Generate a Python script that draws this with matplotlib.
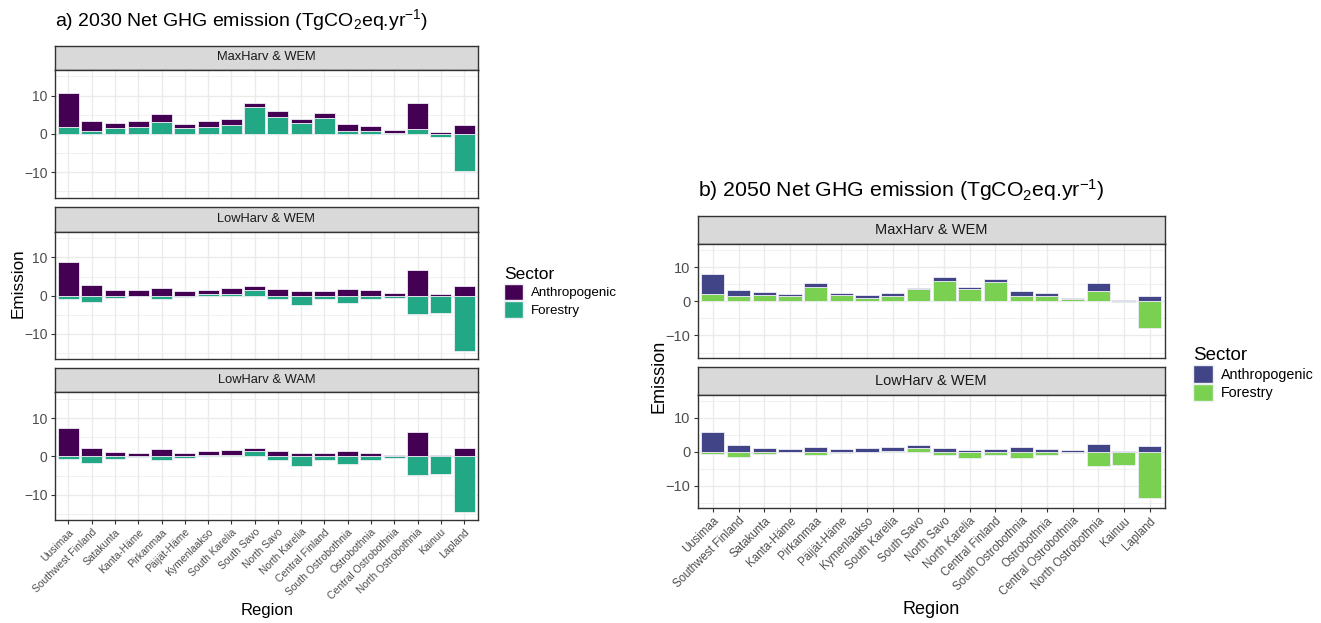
import matplotlib
matplotlib.use("Agg")
import matplotlib.pyplot as plt
from matplotlib.patches import Patch
import numpy as np

plt.rcParams['font.family'] = ['Liberation Sans', 'DejaVu Sans']
plt.rcParams['mathtext.fontset'] = 'custom'
plt.rcParams['mathtext.rm'] = 'Liberation Sans'
plt.rcParams['mathtext.it'] = 'Liberation Sans:italic'

regions = ["Uusimaa", "Southwest Finland", "Satakunta", "Kanta-Häme", "Pirkanmaa",
           "Päijät-Häme", "Kymenlaakso", "South Karelia", "South Savo", "North Savo",
           "North Karelia", "Central Finland", "South Ostrobothnia", "Ostrobothnia",
           "Central Ostrobothnia", "North Ostrobothnia", "Kainuu", "Lapland"]

# 2030 scenarios
anthro_2030_max_wem = [8.9, 2.7, 1.4, 1.6, 2.1, 1.2, 1.4, 1.7, 1.0, 1.7, 1.0, 1.2, 1.7, 1.3, 0.7, 6.7, 0.4, 2.3]
forest_2030_max_wem = [1.8, 0.7, 1.5, 1.7, 3.0, 1.5, 1.9, 2.3, 7.0, 4.3, 2.8, 4.2, 0.8, 0.8, 0.3, 1.4, -0.9, -9.6]
anthro_2030_low_wem = [8.8, 2.7, 1.6, 1.4, 2.1, 1.2, 1.3, 1.6, 0.9, 1.7, 1.1, 1.1, 1.8, 1.4, 0.7, 6.7, 0.4, 2.4]
forest_2030_low_wem = [-0.8, -1.6, -0.6, -0.2, -0.9, -0.3, 0.3, 0.4, 1.5, -0.9, -2.4, -0.9, -2.0, -0.9, -0.5, -4.9, -4.5, -14.5]
anthro_2030_low_wam = [7.4, 2.2, 1.2, 0.95, 1.8, 0.9, 1.1, 1.35, 0.8, 1.4, 0.8, 0.95, 1.5, 1.0, 0.45, 6.3, 0.3, 2.2]
forest_2030_low_wam = [-0.8, -1.6, -0.7, -0.2, -1.0, -0.3, 0.3, 0.35, 1.3, -0.9, -2.4, -0.95, -2.1, -0.95, -0.5, -4.9, -4.5, -14.5]

# 2050 scenarios
anthro_2050_max_wem = [5.8, 1.8, 0.9, 0.6, 1.2, 0.6, 0.7, 0.9, 0.5, 1.1, 0.6, 0.8, 1.2, 0.8, 0.5, 2.3, 0.3, 1.7]
forest_2050_max_wem = [2.2, 1.5, 1.9, 1.5, 4.3, 1.8, 1.1, 1.5, 3.5, 6.0, 3.6, 5.6, 1.7, 1.5, 0.6, 3.0, -0.1, -7.9]
anthro_2050_low_wem = [5.9, 1.8, 1.0, 0.8, 1.3, 0.7, 1.0, 1.15, 0.6, 1.1, 0.6, 0.7, 1.3, 0.9, 0.5, 2.3, 0.3, 1.7]
forest_2050_low_wem = [-0.7, -1.5, -0.8, -0.2, -1.0, -0.4, -0.1, 0.2, 1.2, -0.9, -2.0, -0.9, -1.8, -1.0, -0.5, -4.2, -4.0, -13.6]

W, H = 1321, 623
fig = plt.figure(figsize=(W / 100, H / 100), dpi=100)


def px_axes(x0, y0, x1, y1):
    # pixel box (top-left origin) -> axes
    return fig.add_axes([x0 / W, 1 - y1 / H, (x1 - x0) / W, (y1 - y0) / H])


def strip(x0, y0, x1, y1, label, fs):
    s = px_axes(x0, y0, x1, y1)
    s.set_facecolor('#D9D9D9')
    s.set_xticks([])
    s.set_yticks([])
    for sp in s.spines.values():
        sp.set_color('#333333')
        sp.set_linewidth(1.0)
    s.text(0.5, 0.5, label, ha='center', va='center', fontsize=fs, color='#1A1A1A',
           transform=s.transAxes)


def facet(box, label, anthro, forest, cols, fs, show_x, tick_fs, lab_fs):
    x0, sy0, sy1, x1, py1 = box
    strip(x0, sy0, x1, sy1, label, fs)
    ax = px_axes(x0, sy1, x1, py1)
    x = np.arange(len(regions))
    a = np.array(anthro)
    f = np.array(forest)
    f_bottom = np.zeros_like(f)
    a_bottom = np.where(a >= 0, np.clip(f, 0, None), np.clip(f, None, 0))
    ax.bar(x, f, 0.9, bottom=f_bottom, color=cols[1], edgecolor='#EEEEF5', linewidth=0.6, zorder=3)
    ax.bar(x, a, 0.9, bottom=a_bottom, color=cols[0], edgecolor='#EEEEF5', linewidth=0.6, zorder=3)
    ax.set_xlim(-0.6, len(regions) - 0.4)
    ax.set_ylim(-16.6, 16.8)
    ax.set_yticks([-10, 0, 10])
    ax.set_yticks([-15, -5, 5, 15], minor=True)
    ax.set_xticks(x)
    ax.grid(True, which='major', color='#EBEBEB', linewidth=1.0, zorder=0)
    ax.grid(True, which='minor', axis='y', color='#EBEBEB', linewidth=0.5, zorder=0)
    ax.set_axisbelow(True)
    for sp in ax.spines.values():
        sp.set_color('#333333')
        sp.set_linewidth(1.0)
    ax.tick_params(axis='y', which='major', labelsize=tick_fs, colors='#333333',
                   labelcolor='#4D4D4D', length=3, width=0.8, pad=2)
    ax.tick_params(axis='y', which='minor', length=0)
    if show_x:
        ax.set_xticklabels(regions, rotation=45, ha='right', va='top',
                           rotation_mode='anchor', fontsize=lab_fs, color='#4D4D4D')
        ax.tick_params(axis='x', colors='#333333', labelcolor='#4D4D4D', length=3,
                       width=0.8, pad=2)
    else:
        ax.tick_params(axis='x', length=0, labelbottom=False)
    return ax


left_cols = ['#440154', '#22A884']
right_cols = ['#414487', '#7AD151']

# panel a (2030)
lx0, lx1 = 54.5, 478
facet((lx0, 45.5, 69.5, lx1, 197.5), "MaxHarv & WEM", anthro_2030_max_wem, forest_2030_max_wem,
      left_cols, 9.3, False, 10, 7.5)
facet((lx0, 207, 231.5, lx1, 359), "LowHarv & WEM", anthro_2030_low_wem, forest_2030_low_wem,
      left_cols, 9.3, False, 10, 7.5)
facet((lx0, 367.5, 392, lx1, 520), "LowHarv & WAM", anthro_2030_low_wam, forest_2030_low_wam,
      left_cols, 9.3, True, 10, 7.5)

fig.text(55 / W, 1 - 20 / H, r'a) 2030 Net GHG emission (TgCO$_2$eq.yr$^{-1}$)',
         fontsize=14, ha='left', va='center')
fig.text(18 / W, 1 - 283 / H, 'Emission', rotation=90, fontsize=12.3, ha='center', va='center')
fig.text(267 / W, 1 - 611 / H, 'Region', fontsize=12, ha='center', va='center')

leg_a = fig.legend([Patch(facecolor=c, edgecolor='#EEEEF5') for c in left_cols],
                   ['Anthropogenic', 'Forestry'], title='Sector', loc='upper left',
                   bbox_to_anchor=(499 / W, 1 - 262 / H), frameon=False, fontsize=9.6,
                   title_fontsize=12.5, handlelength=1.4, handleheight=1.5,
                   handletextpad=0.6, labelspacing=0.1, borderaxespad=0)
leg_a._legend_box.align = 'left'

# panel b (2050)
rx0, rx1 = 697.5, 1165
facet((rx0, 216, 244, rx1, 358), "MaxHarv & WEM", anthro_2050_max_wem, forest_2050_max_wem,
      right_cols, 10.5, False, 10.5, 8.3)
facet((rx0, 367, 394.5, rx1, 508), "LowHarv & WEM", anthro_2050_low_wem, forest_2050_low_wem,
      right_cols, 10.5, True, 10.5, 8.3)

fig.text(698 / W, 1 - 190 / H, r'b) 2050 Net GHG emission (TgCO$_2$eq.yr$^{-1}$)',
         fontsize=15.3, ha='left', va='center')
fig.text(659 / W, 1 - 376 / H, 'Emission', rotation=90, fontsize=13, ha='center', va='center')
fig.text(931 / W, 1 - 609 / H, 'Region', fontsize=13, ha='center', va='center')

leg_b = fig.legend([Patch(facecolor=c, edgecolor='#EEEEF5') for c in right_cols],
                   ['Anthropogenic', 'Forestry'], title='Sector', loc='upper left',
                   bbox_to_anchor=(1187 / W, 1 - 341 / H), frameon=False, fontsize=10.3,
                   title_fontsize=13.5, handlelength=1.4, handleheight=1.5,
                   handletextpad=0.6, labelspacing=0.1, borderaxespad=0)
leg_b._legend_box.align = 'left'

fig.savefig('out.png', dpi=100, facecolor='white')
